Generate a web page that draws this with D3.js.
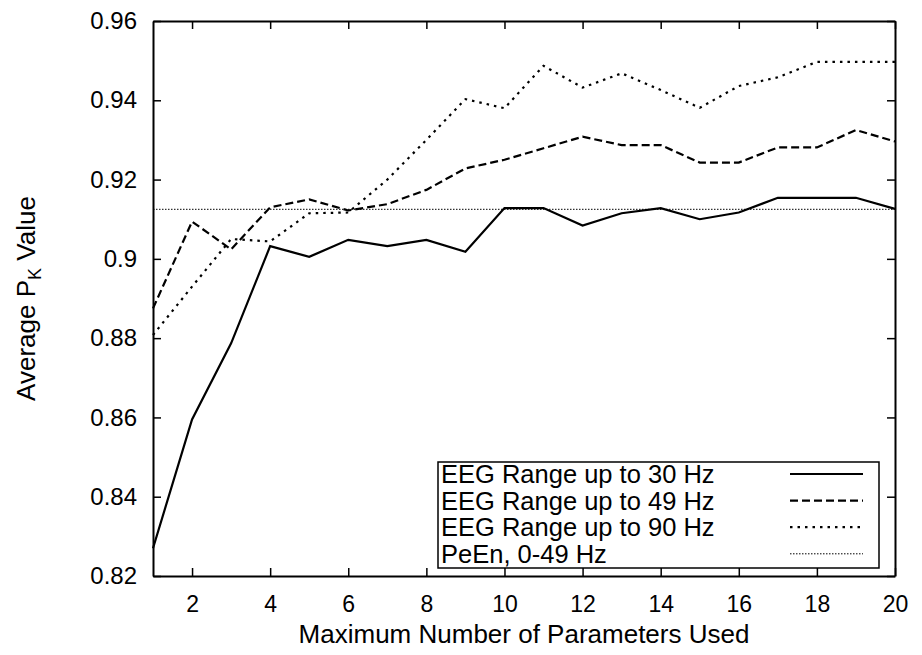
<!DOCTYPE html>
<html>
<head>
<meta charset="utf-8">
<style>
  body { margin: 0; background: #fff; }
  text { font-family: "Liberation Sans", Arial, sans-serif; fill: #000; }
</style>
<title>Average PK Value</title>
</head>
<body>
<svg id="chart" width="922" height="655"></svg>
<script src="https://cdn.jsdelivr.net/npm/d3@7"></script>
<script>
// number of parameters used
var params = [1,2,3,4,5,6,7,8,9,10,11,12,13,14,15,16,17,18,19,20];
// average PK values per EEG range
var eeg30 = [0.827,0.8595,0.8787,0.9032,0.9005,0.9048,0.9032,0.9048,0.9018,0.9128,0.9128,0.9084,0.9115,0.9128,0.910,0.9117,0.9154,0.9154,0.9154,0.9126];
var eeg49 = [0.8875,0.9094,0.9024,0.913,0.915,0.9122,0.9138,0.9174,0.9228,0.925,0.9279,0.9308,0.9287,0.9287,0.9243,0.9243,0.9281,0.9281,0.9325,0.9296];
var eeg90 = [0.8808,0.893,0.905,0.9044,0.9115,0.9117,0.92,0.9300,0.9403,0.938,0.9487,0.9432,0.9468,0.9426,0.9381,0.9436,0.9458,0.9497,0.9497,0.9497];
var peen = 0.9125;
var xTicks = [2,4,6,8,10,12,14,16,18,20];
var yTicks = [0.82,0.84,0.86,0.88,0.9,0.92,0.94,0.96];
var legendNames = ["EEG Range up to 30 Hz","EEG Range up to 49 Hz","EEG Range up to 90 Hz","PeEn, 0-49 Hz"];

var mLeft = 153, mRight = 895, mTop = 21, mBottom = 576;

var svg = d3.select("#chart");

var x = d3.scaleLinear().domain([1,20]).range([mLeft,mRight]);
var y = d3.scaleLinear().domain([0.82,0.96]).range([mBottom,mTop]);

// line styles: solid, dashed, dotted, fine dotted
var styles = [
  {w: 2.2, dash: null},
  {w: 2.2, dash: "8,4"},
  {w: 2.2, dash: "2.5,5"},
  {w: 1, dash: "1.5,1.5"}
];

var line = d3.line()
  .x(function(d, i) { return x(params[i]); })
  .y(function(d) { return y(d); });

var series = [eeg30, eeg49, eeg90];
series.forEach(function(s, k) {
  svg.append("path")
    .attr("d", line(s))
    .attr("fill", "none")
    .attr("stroke", "#000")
    .attr("stroke-width", styles[k].w)
    .attr("stroke-dasharray", styles[k].dash);
});

svg.append("line")
  .attr("x1", x(1)).attr("x2", x(20))
  .attr("y1", y(peen)).attr("y2", y(peen))
  .attr("stroke", "#000")
  .attr("stroke-width", styles[3].w)
  .attr("stroke-dasharray", styles[3].dash);

// axes, gnuplot-style inward ticks mirrored on all sides
var xAxis = svg.append("g").attr("transform", "translate(0," + mBottom + ")")
  .call(d3.axisBottom(x).tickValues(xTicks).tickSizeInner(-8).tickSizeOuter(0).tickPadding(20));
var xTop = svg.append("g").attr("transform", "translate(0," + mTop + ")")
  .call(d3.axisTop(x).tickValues(xTicks).tickSizeInner(-8).tickSizeOuter(0).tickFormat(""));
var yAxis = svg.append("g").attr("transform", "translate(" + mLeft + ",0)")
  .call(d3.axisLeft(y).tickValues(yTicks).tickSizeInner(-8).tickSizeOuter(0).tickPadding(16).tickFormat(d3.format("")));
var yRight = svg.append("g").attr("transform", "translate(" + mRight + ",0)")
  .call(d3.axisRight(y).tickValues(yTicks).tickSizeInner(-8).tickSizeOuter(0).tickFormat(""));

[xAxis, xTop, yAxis, yRight].forEach(function(g) {
  g.select(".domain").attr("stroke", "#000").attr("stroke-width", 2);
  g.selectAll(".tick line").attr("stroke", "#000").attr("stroke-width", 1.5);
  g.selectAll(".tick text").attr("font-size", 23).attr("font-family", "Liberation Sans, Arial, sans-serif").attr("fill", "#000");
});
yAxis.selectAll(".tick text").attr("font-size", 24);

// legend
var lg = svg.append("g");
lg.append("rect")
  .attr("x", 438).attr("y", 462).attr("width", 441).attr("height", 106)
  .attr("fill", "#fff").attr("stroke", "#000").attr("stroke-width", 1.5);
legendNames.forEach(function(name, i) {
  var by = 483 + i * 26.6;
  lg.append("text").attr("x", 441).attr("y", by).attr("font-size", 25.5).text(name);
  lg.append("line")
    .attr("x1", 790).attr("x2", 863)
    .attr("y1", by - 9).attr("y2", by - 9)
    .attr("stroke", "#000")
    .attr("stroke-width", styles[i].w)
    .attr("stroke-dasharray", styles[i].dash);
});

// axis titles
svg.append("text")
  .attr("x", (mLeft + mRight) / 2).attr("y", 643)
  .attr("text-anchor", "middle").attr("font-size", 26)
  .text("Maximum Number of Parameters Used");

var yt = svg.append("text")
  .attr("transform", "translate(35," + ((mTop + mBottom) / 2) + ") rotate(-90)")
  .attr("text-anchor", "middle").attr("font-size", 26);
yt.append("tspan").text("Average P");
yt.append("tspan").attr("font-size", 18).attr("dy", 6).text("K");
yt.append("tspan").attr("dy", -6).text(" Value");
</script>
</body>
</html>
